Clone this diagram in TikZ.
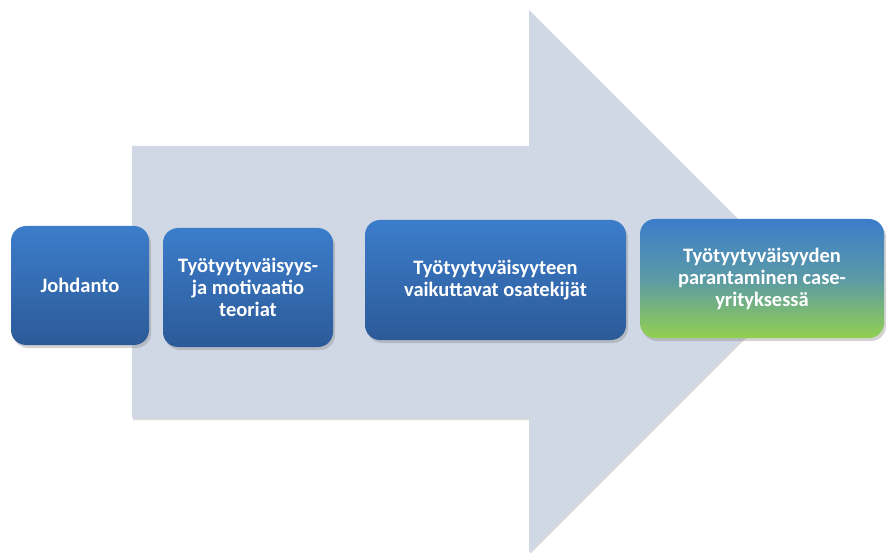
\documentclass[tikz,border=0pt]{standalone}
\usepackage{fontspec}
\setmainfont{Carlito}
\usetikzlibrary{shadows}

\definecolor{arrowgray}{HTML}{D0D8E6}
\definecolor{boxtop}{HTML}{3C7DCB}
\definecolor{boxbot}{HTML}{2C5A98}
\definecolor{boxmid}{HTML}{5B9AA6}
\definecolor{boxgreen}{HTML}{92D050}

\tikzset{
  phase/.style={rounded corners=15pt, top color=boxtop, bottom color=boxbot,
    text=white, align=center, font=\bfseries\fontsize{20.5}{22}\selectfont,
    drop shadow={shadow xshift=2pt, shadow yshift=-3pt, opacity=.35}},
  lastphase/.style={phase, bottom color=boxgreen, middle color=boxmid}
}

\begin{document}
\begin{tikzpicture}[x=1pt,y=-1pt]
\useasboundingbox (0,0) rectangle (891,553);
\clip (0,0) rectangle (891,553);

% big arrow behind the steps
\fill[arrowgray, drop shadow={shadow xshift=1pt, shadow yshift=-2pt, opacity=.3}]
  (132,146) -- (529,146) -- (529,10) -- (800,281) -- (529,552) -- (529,418) -- (132,418) -- cycle;

\node[phase, minimum width=138pt, minimum height=119pt] (intro) at (80,285.5) {Johdanto};
\node[phase, minimum width=170pt, minimum height=119pt] (theory) at (248,287.5)
  {Työtyytyväisyys-\\ja motivaatio\\teoriat};
\node[phase, minimum width=261pt, minimum height=120pt] (factors) at (495.5,280)
  {Työtyytyväisyyteen\\vaikuttavat osatekijät};
\node[lastphase, minimum width=244pt, minimum height=119pt] (improve) at (762,278.5)
  {Työtyytyväisyyden\\parantaminen case-\\yrityksessä};
\end{tikzpicture}
\end{document}
